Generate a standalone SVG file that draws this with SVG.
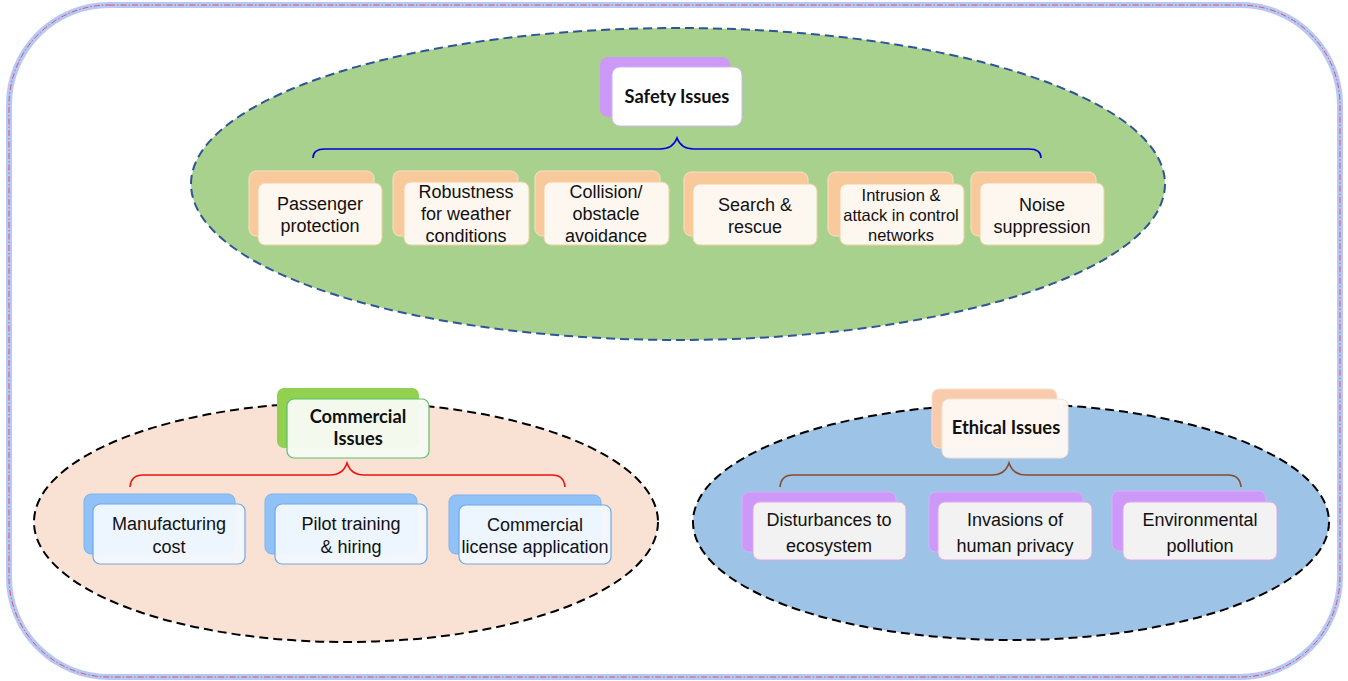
<svg xmlns="http://www.w3.org/2000/svg" width="1348" height="681" viewBox="0 0 1348 681">
<defs>
<style>
.frame-glow{fill:none;stroke:#a9c0f4;stroke-width:6;stroke-opacity:0.85}
.frame-line{fill:none;stroke:#e0506a;stroke-width:1;stroke-dasharray:6 2 1.5 2}
.ell{stroke-width:2;stroke-dasharray:9 5}
.t{font-family:"Liberation Sans",Arial,sans-serif;font-size:18px;fill:#111;text-anchor:middle}
.ts{font-family:"Liberation Sans",Arial,sans-serif;font-size:16.5px;fill:#111;text-anchor:middle}
.h{font-family:Lato,"Liberation Sans",sans-serif;font-weight:bold;font-size:18.3px;fill:#111;text-anchor:middle}
.bo{fill:#f8c99a;stroke:#fbe0c4;stroke-width:1}
.fo{fill:#fefaf4;fill-opacity:0.95;stroke:#f5cfa0;stroke-width:1}
.bb{fill:#90c2f7;stroke:#7fb3ee;stroke-width:1}
.fb{fill:#f2f8fe;fill-opacity:0.95;stroke:#6ea8e6;stroke-width:1.2}
.bp{fill:#cc99f9;stroke:#d7b0fb;stroke-width:1}
.fp{fill:#f2f2f2;stroke:#e2a6e8;stroke-width:1}
.brace{fill:none;stroke-width:1.6}
</style>
</defs>
<rect x="0" y="0" width="1348" height="681" fill="#ffffff"/>
<rect class="frame-glow" x="9" y="5" width="1331" height="672" rx="100" ry="100"/>
<rect class="frame-line" x="9" y="5" width="1331" height="672" rx="100" ry="100"/>

<g id="safety-area">
<ellipse class="ell" cx="678" cy="184" rx="487" ry="156" fill="#a9d18e" stroke="#2f5597"/>
</g>
<g id="commercial-area">
<ellipse class="ell" cx="346" cy="522" rx="312" ry="120" fill="#f9e2d4" stroke="#000"/>
</g>
<g id="ethical-area">
<ellipse class="ell" cx="1011" cy="522" rx="318" ry="118" fill="#9dc3e6" stroke="#000"/>
</g>

<g id="connectors">
<path class="brace" stroke="#0000e0" d="M313,158 Q313,149 325,149 L660,149 Q673,149 677,138 Q681,149 694,149 L1029,149 Q1041,149 1041,158"/>
<path class="brace" stroke="#ee1111" d="M130,487 Q131,475 143,475 L330,475 Q343,475 347,463 Q351,475 364,475 L552,475 Q564,475 565,487"/>
<path class="brace" stroke="#8b4a2b" d="M780,487 Q781,475 793,475 L992,475 Q1005,475 1009,463 Q1013,475 1026,475 L1228,475 Q1240,475 1241,487"/>
</g>

<g id="safety-issues">
<rect x="600" y="57" width="130" height="60" rx="8" fill="#cc99f9"/>
<rect x="612" y="67" width="130" height="59" rx="8" fill="#ffffff" stroke="#d2b5f0" stroke-width="1"/>
<text class="h" x="677" y="103">Safety Issues</text>
</g>

<g id="passenger-protection">
<rect class="bo" x="249" y="171" width="125" height="65" rx="7"/>
<rect class="fo" x="258" y="183" width="124" height="62" rx="7"/>
<text class="t" x="320" y="210">Passenger</text>
<text class="t" x="320" y="232">protection</text>
</g>
<g id="robustness">
<rect class="bo" x="393" y="171" width="125" height="65" rx="7"/>
<rect class="fo" x="404" y="182" width="125" height="63" rx="7"/>
<text class="t" x="466" y="198">Robustness</text>
<text class="t" x="466" y="220">for weather</text>
<text class="t" x="466" y="242">conditions</text>
</g>
<g id="collision">
<rect class="bo" x="535" y="171" width="125" height="65" rx="7"/>
<rect class="fo" x="544" y="182" width="125" height="63" rx="7"/>
<text class="t" x="606" y="198">Collision/</text>
<text class="t" x="606" y="220">obstacle</text>
<text class="t" x="606" y="242">avoidance</text>
</g>
<g id="search-rescue">
<rect class="bo" x="684" y="172" width="124" height="64" rx="7"/>
<rect class="fo" x="693" y="184" width="124" height="61" rx="7"/>
<text class="t" x="755" y="211">Search &amp;</text>
<text class="t" x="755" y="233">rescue</text>
</g>
<g id="intrusion">
<rect class="bo" x="828" y="172" width="125" height="64" rx="7"/>
<rect class="fo" x="840" y="184" width="124" height="61" rx="7"/>
<text class="ts" x="901" y="201">Intrusion &amp;</text>
<text class="ts" x="901" y="221">attack in control</text>
<text class="ts" x="901" y="241">networks</text>
</g>
<g id="noise-suppression">
<rect class="bo" x="971" y="172" width="125" height="64" rx="7"/>
<rect class="fo" x="980" y="183" width="124" height="62" rx="7"/>
<text class="t" x="1042" y="211">Noise</text>
<text class="t" x="1042" y="233">suppression</text>
</g>

<g id="commercial-issues">
<rect x="277" y="388" width="142" height="60" rx="7" fill="#92d050"/>
<rect x="287" y="399" width="142" height="59" rx="7" fill="#f7fbf3" fill-opacity="0.96" stroke="#5cbf6a" stroke-width="1.2"/>
<text class="h" x="358" y="423">Commercial</text>
<text class="h" x="358" y="445">Issues</text>
</g>
<g id="manufacturing-cost">
<rect class="bb" x="84" y="494" width="151" height="60" rx="7"/>
<rect class="fb" x="93" y="504" width="152" height="60" rx="7"/>
<text class="t" x="169" y="530">Manufacturing</text>
<text class="t" x="169" y="553">cost</text>
</g>
<g id="pilot-training">
<rect class="bb" x="265" y="494" width="152" height="60" rx="7"/>
<rect class="fb" x="275" y="504" width="152" height="60" rx="7"/>
<text class="t" x="351" y="530">Pilot training</text>
<text class="t" x="351" y="553">&amp; hiring</text>
</g>
<g id="commercial-license">
<rect class="bb" x="449" y="495" width="152" height="59" rx="7"/>
<rect class="fb" x="459" y="505" width="152" height="59" rx="7"/>
<text class="t" x="535" y="531">Commercial</text>
<text class="t" x="535" y="553">license application</text>
</g>

<g id="ethical-issues">
<rect x="932" y="389" width="125" height="59" rx="7" fill="#f8cbad" stroke="#fbe0c9" stroke-width="1"/>
<rect x="942" y="399" width="126" height="59" rx="7" fill="#fdf8f4" fill-opacity="0.96" stroke="#f4e3d3" stroke-width="1"/>
<text class="h" x="1006" y="434">Ethical Issues</text>
</g>
<g id="disturbances">
<rect class="bp" x="742" y="492" width="154" height="60" rx="7"/>
<rect class="fp" x="753" y="502" width="153" height="58" rx="7"/>
<text class="t" x="829" y="526">Disturbances to</text>
<text class="t" x="829" y="552">ecosystem</text>
</g>
<g id="invasions">
<rect class="bp" x="929" y="492" width="154" height="60" rx="7"/>
<rect class="fp" x="938" y="502" width="154" height="58" rx="7"/>
<text class="t" x="1015" y="526">Invasions of</text>
<text class="t" x="1015" y="552">human privacy</text>
</g>
<g id="environmental">
<rect class="bp" x="1112" y="491" width="154" height="60" rx="7"/>
<rect class="fp" x="1123" y="502" width="154" height="58" rx="7"/>
<text class="t" x="1200" y="526">Environmental</text>
<text class="t" x="1200" y="552">pollution</text>
</g>
</svg>
